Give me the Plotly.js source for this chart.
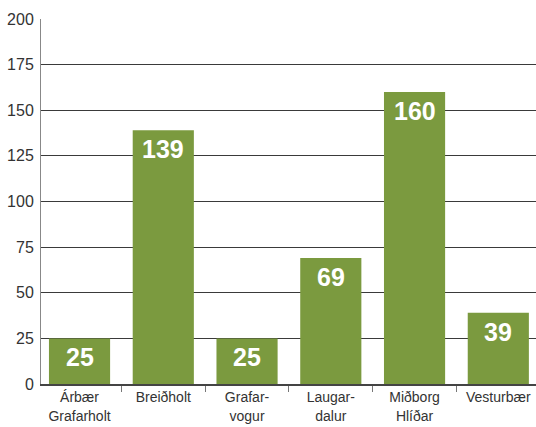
<!DOCTYPE html>
<html>
<head>
<meta charset="utf-8">
<script src="https://cdn.plot.ly/plotly-3.0.1.min.js"></script>
<style>html,body{margin:0;padding:0;background:#fff;}#chart{width:536px;height:427px;}</style>
</head>
<body>
<div id="chart"></div>
<script>
const categories = ["Árbær<br>Grafarholt", "Breiðholt", "Grafar-<br>vogur", "Laugar-<br>dalur", "Miðborg<br>Hlíðar", "Vesturbær"];
const values = [25, 139, 25, 69, 160, 39];
const yTicks = [0, 25, 50, 75, 100, 125, 150, 175, 200];

const FONT = '"Liberation Sans", Arial, sans-serif';
const barColor = '#7b9a3f';

const trace = {
  type: 'bar',
  x: categories,
  y: values,
  marker: {color: barColor, line: {width: 0}},
  hoverinfo: 'none'
};

const annotations = categories.map((c, i) => ({
  x: c, y: values[i], xref: 'x', yref: 'y',
  text: String(values[i]),
  showarrow: false, yanchor: 'middle', xanchor: 'center',
  yshift: -19,
  font: {family: FONT, size: 25, color: '#ffffff', weight: 'bold'}
}));

const layout = {
  width: 536, height: 427,
  margin: {l: 41, r: 0, t: 19, b: 43},
  paper_bgcolor: '#fff', plot_bgcolor: '#fff',
  showlegend: false,
  bargap: 0.27,
  font: {family: FONT, color: '#333'},
  xaxis: {
    type: 'category',
    range: [-0.46, 5.45],
    tickson: 'boundaries',
    ticks: 'outside', ticklen: 6, tickcolor: '#777', tickwidth: 1,
    showgrid: false,
    showline: true, linecolor: '#444', linewidth: 1.5,
    tickfont: {family: FONT, size: 14, color: '#333'},
    fixedrange: true
  },
  yaxis: {
    range: [0, 200],
    tickvals: yTicks,
    ticktext: yTicks.map(String),
    ticks: '',
    showgrid: true, gridcolor: '#3a3a3a', gridwidth: 1,
    showline: true, linecolor: '#888', linewidth: 1,
    zeroline: false,
    tickfont: {family: FONT, size: 16, color: '#333'},
    ticklabelstandoff: 3,
    fixedrange: true
  },
  annotations: annotations
};

Plotly.newPlot('chart', [trace], layout, {displayModeBar: false, staticPlot: true});
</script>
</body>
</html>
